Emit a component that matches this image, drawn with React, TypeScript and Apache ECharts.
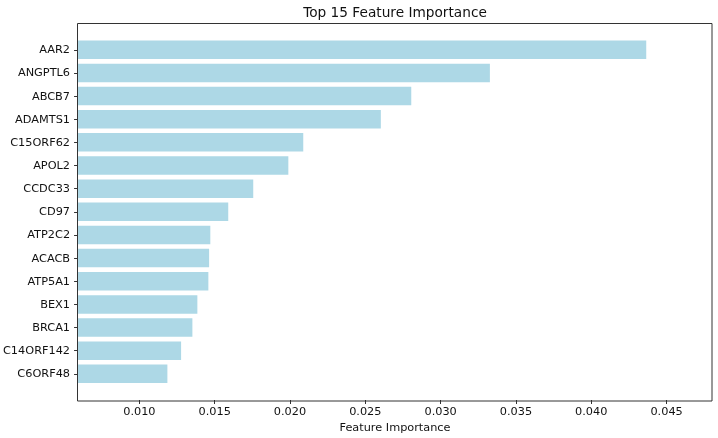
import React, { useEffect, useRef } from "react";
import * as echarts from "echarts";

const features = [
  "AAR2",
  "ANGPTL6",
  "ABCB7",
  "ADAMTS1",
  "C15ORF62",
  "APOL2",
  "CCDC33",
  "CD97",
  "ATP2C2",
  "ACACB",
  "ATP5A1",
  "BEX1",
  "BRCA1",
  "C14ORF142",
  "C6ORF48",
];

const importance = [
  0.04365, 0.03327, 0.02805, 0.02603, 0.02088, 0.01989, 0.01756, 0.0159,
  0.01471, 0.01463, 0.01458, 0.01385, 0.01352, 0.01277, 0.01186,
];

const xTicks = [0.01, 0.015, 0.02, 0.025, 0.03, 0.035, 0.04, 0.045];

const titleText = "Top 15 Feature Importance";
const xAxisTitle = "Feature Importance";

export default function App() {
  const ref = useRef<HTMLDivElement>(null);

  useEffect(() => {
    if (!ref.current) return;
    const chart = echarts.init(ref.current, null, { renderer: "svg" });
    const xMin = Math.min(...importance) * 0.5;
    const xMax = Math.max(...importance) * 1.1;
    const font = "DejaVu Sans";
    const fs = 11.3;
    const frame = { left: 77.5, top: 23.5, right: 712, bottom: 401 };

    chart.setOption({
      animation: false,
      textStyle: { fontFamily: font },
      grid: {
        left: 78,
        right: 718 - 712,
        top: 38.2,
        bottom: 438 - 386.4,
        containLabel: false,
      },
      xAxis: {
        type: "value",
        min: xMin,
        max: xMax,
        offset: 401 - 386.4,
        splitLine: { show: false },
        axisLine: { show: false },
        axisTick: {
          show: true,
          length: 4,
          customValues: xTicks,
          lineStyle: { color: "#333", width: 1 },
        },
        axisLabel: {
          customValues: xTicks,
          formatter: (v: number) => v.toFixed(3),
          fontSize: fs,
          color: "#111",
          margin: 6,
          fontFamily: font,
        },
        name: xAxisTitle,
        nameLocation: "middle",
        nameGap: 22,
        nameTextStyle: { fontSize: fs, color: "#111", fontFamily: font },
      },
      yAxis: {
        type: "category",
        data: features,
        inverse: true,
        axisLine: { show: false },
        axisTick: {
          show: true,
          alignWithLabel: true,
          length: 4,
          lineStyle: { color: "#333", width: 1 },
        },
        axisLabel: {
          fontSize: fs,
          color: "#111",
          margin: 8,
          fontFamily: font,
        },
        splitLine: { show: false },
      },
      series: [
        {
          type: "bar",
          data: importance,
          barWidth: "80%",
          itemStyle: { color: "#ADD8E6" },
          silent: true,
        },
      ],
      graphic: [
        {
          type: "rect",
          shape: {
            x: frame.left,
            y: frame.top,
            width: frame.right - frame.left,
            height: frame.bottom - frame.top,
          },
          style: { fill: "none", stroke: "#333", lineWidth: 1 },
          z: 100,
          silent: true,
        },
        {
          type: "text",
          x: 395,
          y: 12,
          style: {
            text: titleText,
            fontSize: 13.7,
            fontFamily: font,
            fill: "#111",
            textAlign: "center",
            textVerticalAlign: "middle",
          },
        },
      ],
    });

    return () => chart.dispose();
  }, []);

  return (
    <div
      ref={ref}
      style={{ position: "fixed", left: 0, top: 0, width: 718, height: 438 }}
    />
  );
}
